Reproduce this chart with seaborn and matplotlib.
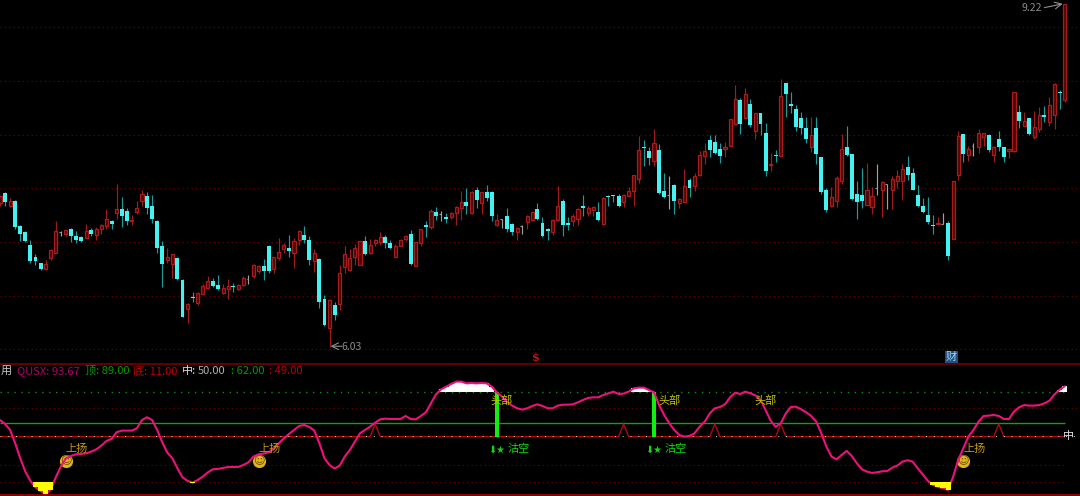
import matplotlib
matplotlib.use("Agg")
import matplotlib.pyplot as plt
import numpy as np
import pandas as pd
import seaborn as sns

# candle values
OPEN = [
    7.36, 7.46, 7.34, 7.38, 7.15, 7.09, 6.97, 6.86, 6.81, 6.75,
    6.85, 6.90, 7.09, 7.08, 7.12, 7.06, 7.05, 7.04, 7.11, 7.07,
    7.12, 7.15, 7.20, 7.27, 7.31, 7.29, 7.20, 7.28, 7.38, 7.43,
    7.34, 7.20, 6.96, 6.83, 6.80, 6.85, 6.65, 6.38, 6.49, 6.43,
    6.52, 6.57, 6.64, 6.60, 6.53, 6.56, 6.59, 6.56, 6.60, 6.66,
    6.68, 6.73, 6.78, 6.96, 6.75, 6.85, 6.94, 6.95, 6.90, 7.02,
    7.07, 7.02, 6.82, 6.84, 6.47, 6.20, 6.41, 6.42, 6.77, 6.74,
    6.86, 6.79, 7.01, 6.90, 6.99, 7.00, 7.05, 6.99, 6.86, 6.96,
    7.03, 7.08, 6.78, 6.99, 7.16, 7.14, 7.28, 7.26, 7.23, 7.23,
    7.27, 7.32, 7.37, 7.27, 7.49, 7.36, 7.47, 7.47, 7.16, 7.22,
    7.24, 7.17, 7.09, 7.15, 7.19, 7.21, 7.31, 7.18, 7.12, 7.09,
    7.21, 7.38, 7.18, 7.20, 7.22, 7.34, 7.27, 7.30, 7.28, 7.17,
    7.43, 7.44, 7.43, 7.37, 7.43, 7.48, 7.59, 7.89, 7.85, 7.76,
    7.86, 7.48, 7.44, 7.53, 7.36, 7.37, 7.58, 7.52, 7.63, 7.80,
    7.95, 7.93, 7.87, 7.87, 7.90, 8.10, 8.32, 8.16, 8.29, 8.04,
    8.20, 8.02, 7.72, 7.81, 7.80, 8.48, 8.29, 8.24, 8.16, 8.06,
    7.89, 8.06, 7.79, 7.49, 7.34, 7.38, 7.57, 7.89, 7.82, 7.45,
    7.44, 7.35, 7.33, 7.50, 7.49, 7.54, 7.49, 7.57, 7.57, 7.70,
    7.64, 7.44, 7.34, 7.25, 7.16, 7.17, 7.17, 7.18, 7.03, 7.63,
    8.01, 7.81, 7.90, 7.89, 7.98, 8.00, 7.81, 7.96, 7.89, 7.85,
    7.85, 8.21, 8.08, 8.16, 7.98, 8.05, 8.18, 8.12, 8.18, 8.40, 8.32,
]
CLOSE = [
    7.43, 7.37, 7.38, 7.14, 7.08, 7.01, 6.82, 6.82, 6.75, 6.80,
    6.93, 7.10, 7.09, 7.11, 7.06, 7.02, 7.01, 7.10, 7.08, 7.12,
    7.16, 7.22, 7.17, 7.31, 7.24, 7.20, 7.21, 7.32, 7.45, 7.32,
    7.22, 6.95, 6.80, 6.86, 6.89, 6.66, 6.30, 6.42, 6.48, 6.53,
    6.59, 6.64, 6.59, 6.56, 6.57, 6.59, 6.58, 6.60, 6.67, 6.66,
    6.79, 6.78, 6.73, 6.73, 6.86, 6.91, 6.97, 6.92, 7.01, 7.10,
    7.02, 6.83, 6.90, 6.44, 6.23, 6.46, 6.32, 6.71, 6.89, 6.85,
    6.95, 7.01, 6.89, 6.97, 7.02, 7.05, 6.99, 6.95, 6.96, 7.02,
    7.06, 6.80, 7.00, 7.12, 7.14, 7.29, 7.24, 7.26, 7.22, 7.27,
    7.33, 7.37, 7.34, 7.47, 7.39, 7.47, 7.41, 7.24, 7.21, 7.22,
    7.12, 7.09, 7.13, 7.15, 7.24, 7.28, 7.22, 7.06, 7.10, 7.21,
    7.34, 7.16, 7.16, 7.24, 7.31, 7.32, 7.32, 7.33, 7.21, 7.41,
    7.42, 7.43, 7.34, 7.44, 7.48, 7.63, 7.86, 7.88, 7.78, 7.92,
    7.46, 7.42, 7.44, 7.38, 7.40, 7.52, 7.50, 7.62, 7.81, 7.85,
    7.86, 7.83, 7.80, 7.89, 8.15, 8.33, 8.10, 8.38, 8.09, 8.20,
    8.10, 7.66, 7.73, 7.80, 8.36, 8.38, 8.27, 8.07, 8.06, 7.96,
    8.00, 7.82, 7.47, 7.30, 7.42, 7.60, 7.87, 7.81, 7.40, 7.37,
    7.38, 7.49, 7.43, 7.50, 7.56, 7.54, 7.59, 7.62, 7.68, 7.63,
    7.49, 7.34, 7.28, 7.19, 7.15, 7.18, 7.17, 6.87, 7.57, 7.99,
    7.82, 7.87, 7.90, 8.02, 8.02, 7.86, 7.89, 7.89, 7.79, 7.87,
    8.40, 8.13, 8.13, 8.01, 8.07, 8.18, 8.17, 8.28, 8.47, 8.39, 9.22,
]
HIGH = [
    7.44, 7.47, 7.41, 7.39, 7.16, 7.10, 7.02, 6.89, 6.81, 6.83,
    6.94, 7.20, 7.10, 7.11, 7.13, 7.10, 7.06, 7.17, 7.13, 7.14,
    7.17, 7.31, 7.21, 7.54, 7.42, 7.32, 7.25, 7.38, 7.49, 7.47,
    7.44, 7.21, 7.01, 6.95, 6.89, 6.86, 6.66, 6.43, 6.54, 6.54,
    6.61, 6.68, 6.67, 6.69, 6.61, 6.66, 6.62, 6.61, 6.68, 6.69,
    6.80, 6.79, 6.84, 6.97, 6.86, 7.04, 6.99, 7.07, 7.04, 7.11,
    7.15, 7.06, 6.94, 6.85, 6.51, 6.46, 6.44, 6.79, 6.96, 6.94,
    6.98, 7.01, 7.06, 7.03, 7.03, 7.09, 7.07, 7.02, 6.98, 7.03,
    7.07, 7.11, 7.00, 7.12, 7.20, 7.31, 7.33, 7.29, 7.27, 7.28,
    7.34, 7.48, 7.50, 7.48, 7.51, 7.47, 7.53, 7.48, 7.26, 7.22,
    7.32, 7.18, 7.14, 7.16, 7.25, 7.28, 7.36, 7.23, 7.13, 7.22,
    7.52, 7.40, 7.23, 7.26, 7.32, 7.44, 7.34, 7.34, 7.37, 7.42,
    7.44, 7.44, 7.45, 7.45, 7.51, 7.63, 7.99, 7.95, 7.89, 8.05,
    7.91, 7.64, 7.62, 7.54, 7.41, 7.68, 7.60, 7.64, 7.85, 7.92,
    8.00, 8.00, 7.92, 7.93, 8.15, 8.46, 8.34, 8.44, 8.33, 8.20,
    8.20, 8.11, 7.83, 7.86, 8.52, 8.48, 8.40, 8.28, 8.21, 8.17,
    8.17, 8.17, 7.79, 7.50, 7.51, 7.62, 8.01, 8.08, 7.82, 7.57,
    7.69, 7.74, 7.51, 7.73, 7.57, 7.54, 7.62, 7.67, 7.73, 7.80,
    7.69, 7.53, 7.41, 7.42, 7.25, 7.23, 7.27, 7.20, 7.57, 8.04,
    8.01, 7.90, 7.92, 8.05, 8.02, 8.01, 7.90, 8.04, 7.89, 7.87,
    8.40, 8.28, 8.21, 8.16, 8.22, 8.26, 8.27, 8.35, 8.48, 8.42, 9.22,
]
LOW = [
    7.34, 7.34, 7.33, 7.12, 7.01, 7.00, 6.81, 6.79, 6.74, 6.74,
    6.83, 6.90, 7.06, 7.06, 7.00, 6.99, 7.00, 7.04, 7.06, 7.02,
    7.08, 7.12, 7.12, 7.22, 7.14, 7.16, 7.16, 7.26, 7.34, 7.26,
    7.18, 6.90, 6.58, 6.81, 6.67, 6.65, 6.30, 6.25, 6.44, 6.41,
    6.52, 6.57, 6.58, 6.55, 6.52, 6.47, 6.54, 6.55, 6.59, 6.61,
    6.67, 6.71, 6.65, 6.71, 6.71, 6.83, 6.90, 6.86, 6.76, 6.97,
    6.99, 6.79, 6.72, 6.39, 6.22, 6.02, 6.27, 6.37, 6.71, 6.73,
    6.79, 6.79, 6.88, 6.89, 6.96, 6.97, 6.95, 6.94, 6.86, 6.96,
    7.01, 6.79, 6.78, 6.96, 7.05, 7.12, 7.21, 7.20, 7.18, 7.22,
    7.16, 7.21, 7.26, 7.26, 7.32, 7.26, 7.38, 7.20, 7.15, 7.13,
    7.09, 7.07, 7.02, 7.08, 7.12, 7.20, 7.21, 7.05, 7.02, 7.07,
    7.20, 7.06, 7.11, 7.15, 7.16, 7.24, 7.24, 7.24, 7.20, 7.16,
    7.34, 7.37, 7.33, 7.33, 7.42, 7.34, 7.55, 7.71, 7.72, 7.71,
    7.45, 7.41, 7.31, 7.26, 7.32, 7.36, 7.42, 7.48, 7.62, 7.73,
    7.79, 7.82, 7.74, 7.79, 7.90, 8.09, 8.01, 8.16, 8.07, 7.96,
    8.00, 7.62, 7.66, 7.75, 7.80, 8.17, 8.20, 8.04, 8.01, 7.92,
    7.84, 7.73, 7.45, 7.28, 7.33, 7.33, 7.54, 7.80, 7.39, 7.22,
    7.32, 7.35, 7.26, 7.44, 7.23, 7.31, 7.31, 7.50, 7.39, 7.58,
    7.49, 7.33, 7.27, 7.17, 7.08, 7.16, 7.17, 6.83, 7.03, 7.58,
    7.75, 7.76, 7.80, 7.83, 7.90, 7.84, 7.75, 7.85, 7.75, 7.78,
    7.84, 8.06, 8.08, 8.00, 7.96, 8.03, 8.12, 8.08, 8.05, 8.24, 8.31,
]
# QUSX oscillator
QUSX = [
    64.4, 61.0, 55.8, 44.2, 31.2, 19.6, 11.6, 6.1, 2.9, 0.3,
    3.8, 14.7, 24.0, 31.2, 33.2, 34.7, 35.0, 35.5, 37.0, 39.0,
    42.2, 46.2, 48.0, 53.8, 55.2, 55.2, 55.2, 57.2, 64.4, 66.8,
    64.4, 55.8, 45.1, 36.1, 31.2, 22.5, 14.7, 11.6, 10.1, 12.4,
    15.3, 19.0, 21.7, 22.0, 22.8, 23.7, 23.7, 23.7, 25.4, 27.7,
    32.7, 34.7, 35.3, 36.4, 39.6, 44.2, 48.5, 52.3, 55.8, 59.2,
    60.1, 58.4, 55.2, 44.2, 31.2, 25.4, 22.3, 24.9, 32.7, 38.4,
    45.7, 52.9, 55.8, 58.7, 62.1, 65.0, 65.6, 65.3, 65.3, 65.3,
    67.9, 65.3, 65.0, 67.9, 71.1, 78.9, 86.7, 91.0, 93.3, 95.7,
    97.7, 97.7, 96.2, 96.5, 96.2, 96.5, 96.2, 93.3, 88.4, 84.7,
    80.3, 76.9, 74.6, 73.4, 74.6, 76.6, 78.0, 76.6, 74.6, 74.6,
    76.9, 77.7, 77.7, 78.0, 79.8, 81.8, 83.5, 84.1, 84.1, 86.1,
    87.6, 89.0, 87.0, 87.3, 89.0, 91.9, 92.5, 92.5, 90.4, 88.4,
    77.4, 68.8, 61.6, 55.8, 51.4, 50.0, 50.6, 52.9, 58.7, 63.0,
    70.2, 74.6, 75.7, 78.0, 84.1, 88.1, 87.0, 89.0, 87.6, 85.8,
    81.8, 73.1, 63.9, 58.4, 61.6, 70.2, 75.7, 76.0, 73.7, 71.1,
    67.9, 63.0, 52.9, 41.3, 32.7, 30.3, 34.1, 37.6, 33.2, 26.9,
    21.7, 19.6, 18.5, 19.1, 19.9, 20.2, 23.1, 24.9, 28.3, 29.5,
    28.3, 22.5, 17.3, 11.6, 8.1, 6.4, 5.2, 3.8, 15.3, 29.8,
    39.9, 50.0, 55.8, 63.0, 67.9, 68.2, 68.8, 67.9, 65.3, 65.3,
    71.7, 75.4, 77.4, 76.9, 76.9, 77.4, 78.9, 81.2, 86.7, 90.7, 93.67,
]
PRICE_GRID = [9.0, 8.5, 8.0, 7.5, 7.0, 6.5, 6.0]
TOP, BOTTOM, MID, UPPER = 89, 11, 50, 62
SIGNAL_PEAK = 61
SIGNAL_BARS = [74, 123, 141, 154, 197]
SELL_BARS = [98, 129]
RISE_BARS = [13, 51, 190]
RISE_Y = [28.9, 28.5, 28.9]
HEAD_BARS = [99, 132, 151]
LABEL_HIGH, LABEL_LOW = 80.9, 39.3

W, H = 1080, 496
BAR_PX = 5.07
PX_PER_UNIT = 107.33

sns.set_theme(style="dark", rc={"figure.facecolor": "black", "axes.facecolor": "black"})
plt.rcParams["font.family"] = ["Noto Sans CJK SC", "DejaVu Sans"]

df = pd.DataFrame({"open": OPEN, "high": HIGH, "low": LOW, "close": CLOSE, "qusx": QUSX})
df["bar"] = df.index
df["signal"] = MID
df.loc[SIGNAL_BARS, "signal"] = SIGNAL_PEAK
up = df[df.close > df.open]
down = df[df.close < df.open]
flat = df[df.close == df.open]

fig = plt.figure(figsize=(W / 100, H / 100), dpi=100, facecolor="black")
ax = fig.add_axes([0, 1 - 363.5 / H, 1, 363.5 / H])
osc = fig.add_axes([0, 0.7 / H, 1, 131.3 / H])
for a in (ax, osc):
    a.set_xlim(0, W / BAR_PX)
    a.set_facecolor("black")
ax.set_ylim(9.256 - 363.5 / PX_PER_UNIT, 9.256)
osc.set_ylim(-0.9, 113)


def px_text(x, y, s, color, size=8, ha="left", **kw):
    return fig.text(x / W, 1 - y / H, s, color=color, fontsize=size, ha=ha, va="center", **kw)


# price pane
ax.hlines(PRICE_GRID, 0, W / BAR_PX, color="#7a0000", lw=0.8, linestyles=(0, (1, 3)), zorder=1)
ax.vlines(up.bar, up.low, up.high, color="#a01c1c", lw=0.85, zorder=2)
ax.vlines(down.bar, down.low, down.high, color="#1d9c9c", lw=0.85, zorder=2)
ax.vlines(flat.bar, flat.low, flat.high, color="#a0a0a0", lw=0.85, zorder=2)
ax.hlines(flat.close, flat.bar - 0.35, flat.bar, color="#a0a0a0", lw=0.8, zorder=2)
ax.bar(up.bar, up.close - up.open, bottom=up.open, width=0.62, facecolor="#4a0808",
       edgecolor="#a81c1c", lw=0.9, zorder=3)
ax.bar(down.bar, down.close - down.open, bottom=down.open, width=0.78, color="#45f2f2",
       lw=0, zorder=3)
ax.annotate("", xy=(65.2, 6.03), xytext=(67.4, 6.03),
            arrowprops=dict(arrowstyle="->", color="#909090", lw=0.8, shrinkA=0, shrinkB=0))
ax.annotate("", xy=(209.6, 9.22), xytext=(206, 9.185),
            arrowprops=dict(arrowstyle="->", color="#909090", lw=0.8, shrinkA=0, shrinkB=0))
px_text(341, 347, "6.03", "#8c8c8c", 7.5)
px_text(1022, 8, "9.22", "#8c8c8c", 7.5)

# oscillator pane
osc.hlines([TOP], 0, 210, color="#0f8f0f", lw=1.0, linestyles=(0, (1, 4)), zorder=1)
osc.hlines([75], 0, 213, color="#7a0000", lw=0.8, linestyles=(0, (1, 3)), zorder=1)
osc.hlines([25, BOTTOM], 0, 210, color="#7a0000", lw=0.8, linestyles=(0, (1, 3)), zorder=1)
osc.hlines([UPPER], 0, 210, color="#10a010", lw=1.0, zorder=1)
sns.lineplot(data=df, x="bar", y="signal", ax=osc, color="#b00a0a", lw=1.0, zorder=2,
             estimator=None, legend=False)
osc.hlines([MID + 0.6], 0, 213, color="#d8d8d8", lw=0.7, linestyles=(0, (1, 7)), zorder=2)
low_zone = df[df.qusx < BOTTOM]
high_zone = df[df.qusx > TOP]
osc.bar(high_zone.bar, high_zone.qusx - TOP, bottom=TOP, width=1.0, color="white", lw=0, zorder=3)
osc.bar(SELL_BARS, [TOP - MID] * len(SELL_BARS), bottom=MID, width=0.85, color="#10f010", lw=0, zorder=3)
osc.scatter(RISE_BARS, RISE_Y, s=90, color="#dcb41e", lw=0, zorder=3)
for b, y in zip(RISE_BARS, RISE_Y):
    osc.text(b, y, "☺", color="#6b4a00", fontsize=8, ha="center", va="center",
             family="DejaVu Sans", zorder=3)
sns.lineplot(data=df, x="bar", y="qusx", ax=osc, color="#f0107c", lw=1.5, zorder=4,
             estimator=None, legend=False)
osc.bar(low_zone.bar, low_zone.qusx - BOTTOM, bottom=BOTTOM, width=1.0, color="#ffff00", lw=0, zorder=5)

for b in HEAD_BARS:
    osc.text(b, LABEL_HIGH, "头部", color="#c4c400", fontsize=8, ha="center", va="center", zorder=5)
for b in RISE_BARS:
    osc.text(b + 2.2, LABEL_LOW, "上扬", color="#c89a10", fontsize=8, ha="center", va="center", zorder=5)
for b in SELL_BARS:
    osc.text(b + 4.2, LABEL_LOW, "沽空", color="#10d810", fontsize=8, ha="center", va="center", zorder=5)
    osc.text(b + 1.6, LABEL_LOW - 0.5, "⬇★", color="#10d810", fontsize=7, ha="right", va="center",
             family="DejaVu Sans", zorder=5)

for a in (ax, osc):
    a.set_axis_off()

# pane borders
fig.add_artist(plt.Line2D([0, 1], [1 - 364 / H] * 2, color="#640000", lw=1.4))
fig.add_artist(plt.Line2D([0, 1], [1 - 495.4 / H] * 2, color="#a00000", lw=1.2))

# header row
px_text(0.5, 371, "用", "#c4c4c4", 8)
px_text(17, 371, "QUSX: 93.67", "#b00068", 8)
px_text(85, 371, "顶: 89.00", "#009a00", 8)
px_text(133, 371, "底: 11.00", "#c00000", 8)
px_text(182, 371, "中:", "#d8d8d8", 8)
px_text(198, 371, "50.00", "#b0b0b0", 8)
px_text(231, 371, ": 62.00", "#009a00", 8)
px_text(269, 371, ": 49.00", "#c00000", 8)

px_text(536, 357.5, "$", "#c81414", 8, ha="center", weight="bold", family="DejaVu Serif")
px_text(951.5, 357, "财", "#a8d0f0", 8, ha="center",
        bbox=dict(boxstyle="square,pad=0.1", fc="#1f5080", ec="none"))
px_text(1069, 436.5, "中", "#e0e0e0", 8, ha="center")

fig.savefig("out.png", dpi=100, facecolor="black")
